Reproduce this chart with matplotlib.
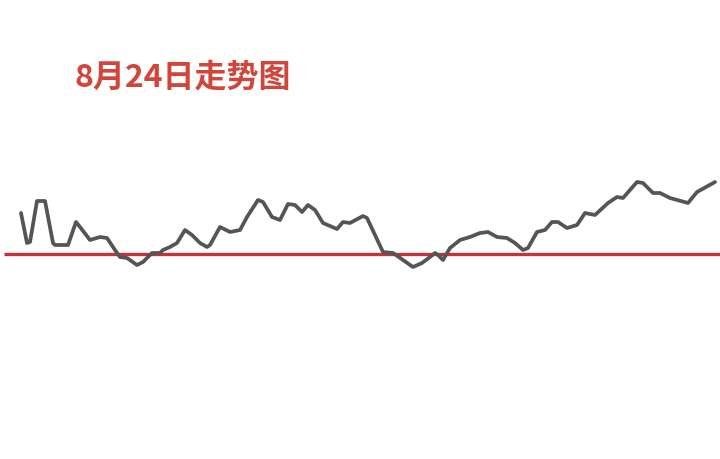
import matplotlib
matplotlib.use("Agg")
import matplotlib.pyplot as plt

# Intraday trend: horizontal position (chart units) and value relative to the baseline
xs = [21, 27, 30, 37, 45, 53, 55, 68, 76, 80, 90, 100, 107, 115, 120, 127, 137, 143,
      152, 160, 163, 170, 177, 185, 192, 200, 207, 210, 220, 230, 240,
      247, 258, 263, 272, 280, 288, 295, 302, 308, 315, 323, 337, 343, 350, 363, 367,
      375, 383, 393, 403, 413, 422, 430, 435, 438, 443, 450, 460, 470, 480,
      488, 497, 507, 515, 523, 528, 537, 545, 552, 558, 567, 577, 585, 595, 608,
      617, 623, 637, 643, 653, 660, 670, 688, 697, 715]
ys_pix = [213, 243, 242, 201, 201, 243, 245, 245, 222, 227, 240, 237, 238, 250, 257, 258, 265, 262,
          253, 253, 250, 247, 243, 230, 235, 243, 247, 245, 227, 232, 230,
          217, 200, 202, 217, 220, 204, 205, 212, 205, 210, 223, 229, 222, 223, 216, 218,
          235, 252, 253, 260, 267, 263, 257, 253, 255, 260, 248, 240, 237, 233,
          232, 237, 238, 243, 250, 248, 232, 230, 222, 222, 228, 225, 213, 215, 203,
          197, 198, 182, 183, 193, 193, 198, 203, 192, 182]
baseline_pix = 254
values = [baseline_pix - y for y in ys_pix]
title = "8月24日走势图"

plt.rcParams['font.family'] = ['Noto Sans CJK SC', 'DejaVu Sans']

fig = plt.figure(figsize=(7.2, 4.59), dpi=100)
ax = fig.add_axes([0, 0, 1, 1])
ax.set_xlim(0, 720)
ax.set_ylim(baseline_pix - 459, baseline_pix)
ax.axis('off')

ax.hlines(0, 4, 720, color='#c8313b', linewidth=2.4, zorder=2)
ax.plot(xs, values, color='#555555', linewidth=2.7, solid_joinstyle='round',
        solid_capstyle='round', zorder=3)

fig.text(75 / 720, 1 - 78 / 459, title, color='#d2453b', fontsize=23,
         fontweight='bold', ha='left', va='center')

fig.savefig('out.png', dpi=100, facecolor='white')
